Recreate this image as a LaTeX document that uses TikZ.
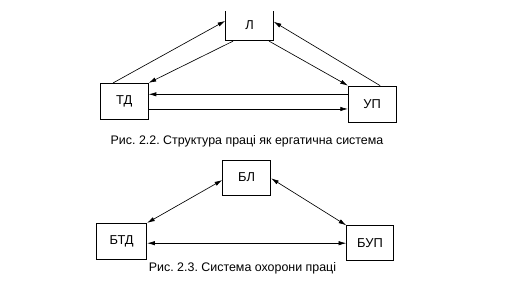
\documentclass[tikz,border=0pt]{standalone}
\usepackage{fontspec}
\setmainfont{Liberation Sans}
\usetikzlibrary{arrows.meta}

\tikzset{
  blok/.style={draw, line width=0.7pt, inner sep=0pt, font=\fontsize{11}{13}\selectfont},
  zv/.style={line width=0.55pt, -{Latex[length=2.3mm,width=1.3mm]}},
  zvv/.style={line width=0.55pt, {Latex[length=2.3mm,width=1.3mm]}-{Latex[length=2.3mm,width=1.3mm]}},
  pidpys/.style={font=\fontsize{10.6}{12}\selectfont}
}

\begin{document}
\frenchspacing
\begin{tikzpicture}[x=0.3mm,y=-0.3mm]
\useasboundingbox (0,0) rectangle (518,284);
\clip (0,11) rectangle (518,284);

% ris. 2.2
\node[blok, minimum width=14.3mm, minimum height=9.6mm] (L) at (249.5,24.7) {Л};
\node[blok, minimum width=14.4mm, minimum height=10.8mm] (TD) at (124.2,101.3) {ТД};
\node[blok, minimum width=14.3mm, minimum height=10.9mm] (UP) at (372.2,104.2) {УП};

\draw[zv] (TD.121) -- (L.171);
\draw[zv] (L.225) -- (TD.north east);
\draw[zv] (L.-40) -- (UP.north west);
\draw[zv] (UP.67) -- (L.7);
\draw[zv] ([yshift=2.97mm]UP.west) -- ([yshift=2.97mm]UP.west -| TD.east);
\draw[zv] ([yshift=-2.3mm]TD.east) -- ([yshift=-2.3mm]TD.east -| UP.west);

\node[pidpys] (pid1) at (247,141) {Рис. 2.2. Структура праці як ергатична система};

% ris. 2.3
\node[blok, minimum width=14.4mm, minimum height=10.5mm] (BL) at (246.7,177.5) {БЛ};
\node[blok, minimum width=15mm, minimum height=10.8mm] (BTD) at (121.7,241.3) {БТД};
\node[blok, minimum width=14mm, minimum height=10.5mm] (BUP) at (370,243.2) {БУП};

\draw[zvv] (BL.186) -- (BTD.north east);
\draw[zvv] (BL.-2) -- (BUP.north west);
\draw[zvv] (BTD.east |- BUP.west) -- (BUP.west);

\node[pidpys] (pid2) at (242.5,268.5) {Рис. 2.3. Система охорони праці};

\end{tikzpicture}
\end{document}
